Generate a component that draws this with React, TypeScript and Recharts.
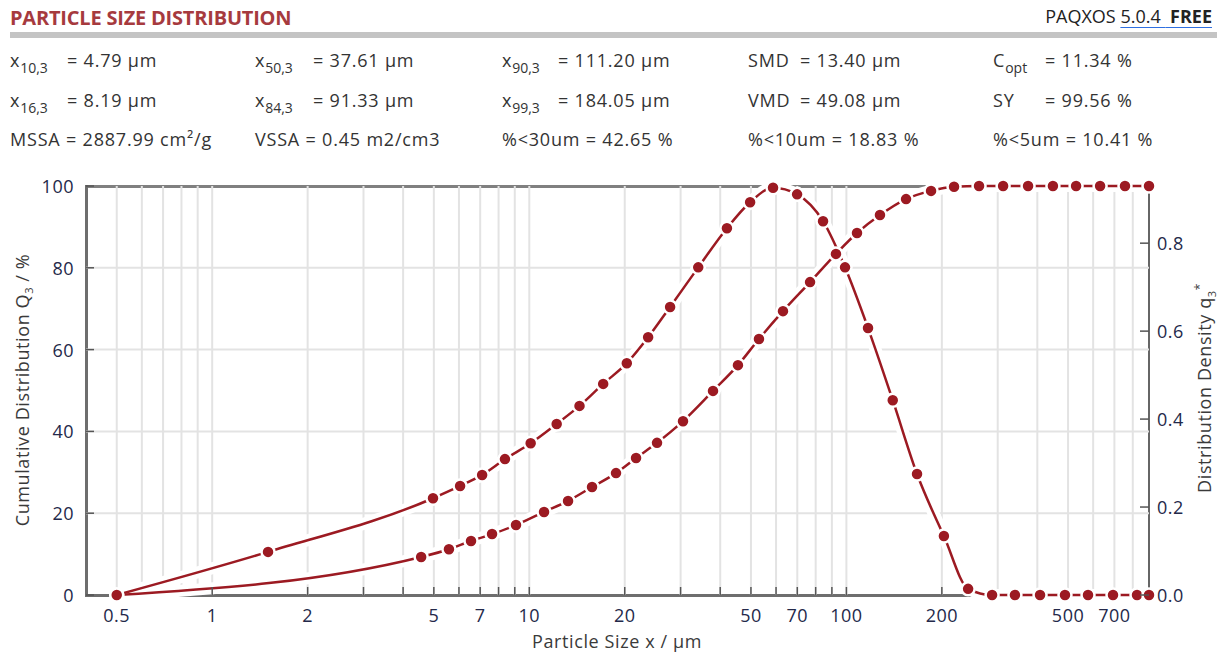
import React from "react";
import { CartesianGrid, Line, LineChart, XAxis, YAxis } from "recharts";

// particle size (µm) at the upper edge of each class, cumulative Q3 in %
const sizeQ3 = [0.5, 4.56, 5.58, 6.55, 7.63, 9.08, 11.13, 13.25, 15.77, 18.77, 21.71, 25.28, 30.53, 37.96, 45.5, 53.0, 63.1, 76.8, 92.7, 108, 127.6, 154.2, 184.9, 218.5, 262, 312, 374, 448, 530, 631, 756, 900];
const cumulativeQ3 = [0, 9.3, 11.2, 13.2, 14.9, 17.1, 20.3, 23.0, 26.4, 29.8, 33.5, 37.2, 42.5, 49.9, 56.2, 62.6, 69.4, 76.5, 83.4, 88.5, 92.9, 96.8, 98.8, 99.8, 100, 100, 100, 100, 100, 100, 100, 100];

// class mid sizes (µm) and density q3*
const sizeDensity = [0.5, 1.5, 4.97, 6.05, 7.1, 8.38, 10.1, 12.2, 14.4, 17.1, 20.3, 23.7, 27.8, 34.1, 42.0, 49.7, 58.7, 69.9, 84.4, 99.0, 117, 140, 167, 203, 242, 288, 340, 408, 489, 578, 693, 825, 900];
const densityQ3 = [0, 0.098, 0.22, 0.248, 0.273, 0.309, 0.345, 0.389, 0.43, 0.48, 0.527, 0.586, 0.655, 0.745, 0.834, 0.893, 0.926, 0.911, 0.85, 0.745, 0.607, 0.443, 0.275, 0.134, 0.014, 0, 0, 0, 0, 0, 0, 0, 0];

const xTicks = [0.5, 0.6, 0.7, 0.8, 0.9, 1, 2, 3, 4, 5, 6, 7, 8, 9, 10, 20, 30, 40, 50, 60, 70, 80, 90, 100, 200, 300, 400, 500, 600, 700, 800, 900];
const xLabelled = [0.5, 1, 2, 5, 7, 10, 20, 50, 70, 100, 200, 500, 700];
const xGrid = xTicks.filter((v) => v < 900);
const leftTicks = [0, 20, 40, 60, 80, 100];
const rightTicks = [0, 0.2, 0.4, 0.6, 0.8];

const statsRow1 = [
  { name: "x", sub: "10,3", value: "= 4.79 µm" },
  { name: "x", sub: "50,3", value: "= 37.61 µm" },
  { name: "x", sub: "90,3", value: "= 111.20 µm" },
  { name: "SMD", sub: "", value: "= 13.40 µm" },
  { name: "C", sub: "opt", value: "= 11.34 %" },
];
const statsRow2 = [
  { name: "x", sub: "16,3", value: "= 8.19 µm" },
  { name: "x", sub: "84,3", value: "= 91.33 µm" },
  { name: "x", sub: "99,3", value: "= 184.05 µm" },
  { name: "VMD", sub: "", value: "= 49.08 µm" },
  { name: "SY", sub: "", value: "= 99.56 %" },
];
const statsRow3 = ["MSSA = 2887.99 cm²/g", "VSSA = 0.45 m2/cm3", "%<30um = 42.65 %", "%<10um = 18.83 %", "%<5um = 10.41 %"];

const q3Data = sizeQ3.map((x, i) => ({ x, y: cumulativeQ3[i] }));
const densityData = sizeDensity.map((x, i) => ({ x, y: densityQ3[i] }));

const RED = "#9c1a22";
const FONT = "'Open Sans', sans-serif";
const TICK_COLOR = "#24294a";
const PLOT = { left: 86, right: 1149, top: 186, bottom: 595 };
const colX = [10, 255, 502, 748, 993];
const eqOffset = [57, 58, 56, 52, 52];
const tickText = { fontSize: 18, fill: TICK_COLOR, fontFamily: FONT, letterSpacing: 0.5 };

const XTick = ({ x, payload }: any) => {
  const v = payload.value;
  return (
    <g>
      {v >= 1 && v <= 200 && <line x1={x} x2={x} y1={PLOT.bottom - 8} y2={PLOT.bottom} stroke="#555" strokeWidth={1.5} />}
      {xLabelled.includes(v) && (
        <text x={x} y={PLOT.bottom + 20} textAnchor="middle" dominantBaseline="central" {...tickText}>
          {v}
        </text>
      )}
    </g>
  );
};

const LeftTick = ({ y, payload }: any) => (
  <g>
    <line x1={PLOT.left} x2={PLOT.left + 8} y1={y} y2={y} stroke="#555" strokeWidth={1.5} />
    <text x={PLOT.left - 12} y={y} textAnchor="end" dominantBaseline="central" {...tickText}>
      {payload.value}
    </text>
  </g>
);

const RightTick = ({ y, payload }: any) => (
  <g>
    <line x1={PLOT.right - 9} x2={PLOT.right} y1={y} y2={y} stroke="#555" strokeWidth={1.5} />
    <text x={PLOT.right + 8} y={y} textAnchor="start" dominantBaseline="central" {...tickText}>
      {payload.value.toFixed(1)}
    </text>
  </g>
);

const abs = (style: React.CSSProperties): React.CSSProperties => ({ position: "absolute", ...style });

function StatRow({ items, top }: { items: typeof statsRow1; top: number }) {
  return (
    <>
      {items.map((s, i) => (
        <React.Fragment key={i}>
          <span style={abs({ left: colX[i], top, whiteSpace: "nowrap" })}>
            {s.name}
            {s.sub && <span style={{ fontSize: 14, position: "relative", top: 6, letterSpacing: 0 }}>{s.sub}</span>}
          </span>
          <span style={abs({ left: colX[i] + eqOffset[i], top, whiteSpace: "nowrap" })}>{s.value}</span>
        </React.Fragment>
      ))}
    </>
  );
}

const titleStyle: React.CSSProperties = { fontSize: 18, letterSpacing: 0.6, color: "#3a3a3a", whiteSpace: "nowrap" };

export default function App() {
  return (
    <div style={{ position: "relative", width: 1227, height: 655, background: "#fff", fontFamily: FONT, color: "#333", overflow: "hidden" }}>
      <style>{"body{margin:0}"}</style>

      {/* frame behind the plot, so the white line casing can hide it */}
      <div style={abs({ left: PLOT.left - 1.5, top: PLOT.top - 1.5, width: PLOT.right - PLOT.left + 3, height: 3, background: "#808080" })} />
      <div style={abs({ left: PLOT.left - 1.5, top: PLOT.bottom - 1.5, width: PLOT.right - PLOT.left + 3, height: 3, background: "#6e6e6e" })} />
      <div style={abs({ left: PLOT.left - 1.5, top: PLOT.top - 1.5, width: 3, height: PLOT.bottom - PLOT.top + 3, background: "#6e6e6e" })} />
      <div style={abs({ left: PLOT.right - 1, top: PLOT.top, width: 2, height: PLOT.bottom - PLOT.top + 1, background: "#666" })} />

      <div style={abs({ left: 0, top: 0 })}>
        <LineChart width={1227} height={655} margin={{ top: 186, right: 38, bottom: 30, left: 40 }}>
          <CartesianGrid yAxisId="left" stroke="#e3e3e3" strokeWidth={2} horizontalValues={[20, 40, 60, 80]} verticalValues={xGrid} />
          <XAxis dataKey="x" type="number" scale="log" domain={[0.4, 900]} ticks={xTicks} interval={0} height={30} axisLine={false} tickLine={false} tick={<XTick />} />
          <YAxis yAxisId="left" domain={[0, 100]} ticks={leftTicks} width={46} axisLine={false} tickLine={false} tick={<LeftTick />} />
          <YAxis yAxisId="right" orientation="right" domain={[0, 0.93]} ticks={rightTicks} width={40} axisLine={false} tickLine={false} tick={<RightTick />} />
          <Line data={q3Data} dataKey="y" yAxisId="left" type="monotone" stroke="#fff" strokeWidth={12} dot={false} activeDot={false} isAnimationActive={false} />
          <Line data={densityData} dataKey="y" yAxisId="right" type="monotone" stroke="#fff" strokeWidth={12} dot={false} activeDot={false} isAnimationActive={false} />
          <Line data={q3Data} dataKey="y" yAxisId="left" type="monotone" stroke={RED} strokeWidth={2.5} dot={{ r: 6.5, fill: RED, stroke: "#fff", strokeWidth: 2.5 }} activeDot={false} isAnimationActive={false} />
          <Line data={densityData} dataKey="y" yAxisId="right" type="monotone" stroke={RED} strokeWidth={2.5} dot={{ r: 6.5, fill: RED, stroke: "#fff", strokeWidth: 2.5 }} activeDot={false} isAnimationActive={false} />
        </LineChart>
      </div>

      {/* header */}
      <div style={abs({ left: 10, top: 4, fontSize: 20, fontWeight: 700, color: "#a63a3e", letterSpacing: -0.2 })}>PARTICLE SIZE DISTRIBUTION</div>
      <div style={abs({ right: 15, top: 4, fontSize: 18, color: "#222", whiteSpace: "nowrap" })}>
        PAQXOS{" "}
        <span style={{ textDecoration: "underline", textDecorationColor: "#2f6fe0", textUnderlineOffset: 4 }}>
          5.0.4 <b>&nbsp;FREE</b>
        </span>
      </div>
      <div style={abs({ left: 10, top: 32, width: 1207, height: 6, background: "#c4c4c4" })} />

      <div style={{ fontSize: 18, letterSpacing: 0.8, lineHeight: "20px" }}>
        <StatRow items={statsRow1} top={50} />
        <StatRow items={statsRow2} top={90} />
        {statsRow3.map((t, i) => (
          <span key={t} style={abs({ left: colX[i], top: 129, whiteSpace: "nowrap" })}>{t}</span>
        ))}
      </div>

      {/* axis titles */}
      <div style={abs({ left: 23, top: 390, transform: "translate(-50%, -50%) rotate(-90deg)", ...titleStyle })}>
        Cumulative Distribution Q<sub style={{ fontSize: 11 }}>3</sub> / %
      </div>
      <div style={abs({ left: 1205, top: 388, transform: "translate(-50%, -50%) rotate(-90deg)", ...titleStyle })}>
        Distribution Density q<sub style={{ fontSize: 11 }}>3</sub>
        <sup style={{ fontSize: 12 }}>*</sup>
      </div>
      <div style={abs({ left: 617, top: 641, transform: "translate(-50%, -50%)", ...titleStyle })}>Particle Size x / µm</div>
    </div>
  );
}
